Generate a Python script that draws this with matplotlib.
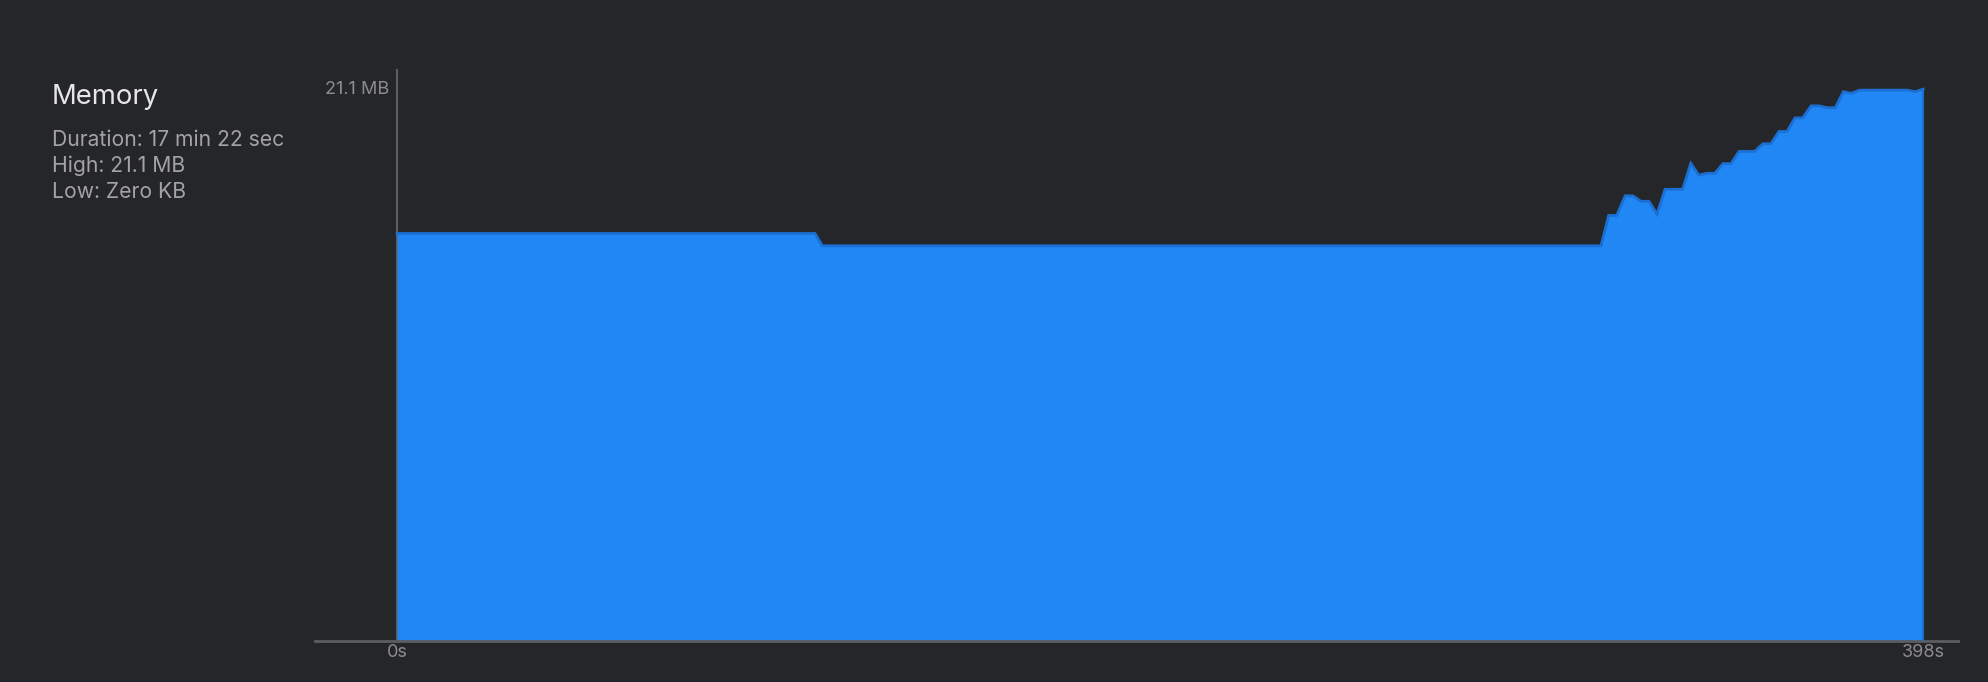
import matplotlib
matplotlib.use("Agg")
import matplotlib.pyplot as plt

# ---- data (seconds, MB) ----
time_s = [0, 109.0, 110.9, 314.0, 316.0, 318.1, 320.3, 322.3, 324.4, 326.5, 328.6,
          330.7, 335.3, 337.4, 339.5, 341.6, 343.7, 345.8, 347.9, 350.0, 354.1,
          356.2, 358.3, 360.4, 362.5, 364.6, 366.6, 368.8, 370.9, 372.9, 375.1,
          377.2, 379.3, 381.4, 393.8, 396.0, 398.0]
memory_mb = [15.58, 15.58, 15.11, 15.11, 16.27, 16.27, 17.02, 17.02, 16.81, 16.81, 16.32,
             17.27, 17.27, 18.26, 17.81, 17.88, 17.88, 18.25, 18.25, 18.72, 18.72,
             19.01, 19.01, 19.48, 19.48, 20.00, 20.00, 20.46, 20.46, 20.39, 20.39,
             21.00, 20.94, 21.06, 21.06, 21.00, 21.10]
x_ticks = [0, 398]
x_tick_labels = ["0s", "398s"]
y_ticks = [21.1]
y_tick_labels = ["21.1 MB"]
title = "Memory"
info_lines = ["Duration: 17 min 22 sec", "High: 21.1 MB", "Low: Zero KB"]

BG = "#252629"
FILL = "#2187f5"
EDGE = "#1b6fd2"
AXIS = "#5c5d60"
TICK = "#8c8c8e"

W, H = 1988, 682
plt.rcParams['font.family'] = ['Inter', 'DejaVu Sans']
fig = plt.figure(figsize=(W / 100, H / 100), dpi=100, facecolor=BG)

ax = fig.add_axes([315 / W, (H - 641) / H, (1958 - 315) / W, (641 - 70) / H])
ax.set_facecolor(BG)
ax.fill_between(time_s, memory_mb, 0, color=FILL, linewidth=0, zorder=2)
ax.plot(time_s, memory_mb, color=EDGE, linewidth=2, zorder=3, solid_joinstyle='miter')
ax.plot([time_s[-1], time_s[-1]], [0, memory_mb[-1]], color=EDGE, linewidth=1.5, zorder=3)

ax.set_xlim(-21.4, 407.1)
ax.set_ylim(0, 21.83)

for s in ['top', 'right']:
    ax.spines[s].set_visible(False)
ax.spines['left'].set_position(('data', 0))
ax.spines['left'].set_color(AXIS)
ax.spines['left'].set_linewidth(1.5)
ax.spines['left'].set_zorder(1)
ax.spines['bottom'].set_color(AXIS)
ax.spines['bottom'].set_linewidth(2)

ax.set_xticks(x_ticks)
ax.set_xticklabels(x_tick_labels)
ax.set_yticks(y_ticks)
ax.set_yticklabels(y_tick_labels)
ax.tick_params(axis='x', length=0, pad=2.5, labelsize=13, labelcolor=TICK)
ax.tick_params(axis='y', length=0, pad=5.5, labelsize=13, labelcolor=TICK)
for lbl in ax.get_yticklabels():
    lbl.set_verticalalignment('center')

fig.text(52 / W, 1 - 104 / H, title, color="#e6e6e6", fontsize=19.8,
         va='baseline', ha='left')
for i, line in enumerate(info_lines):
    fig.text(52 / W, 1 - (146 + 25.8 * i) / H, line, color="#a3a3a5",
             fontsize=15.2, va='baseline', ha='left')

fig.savefig("out.png", dpi=100, facecolor=BG)
